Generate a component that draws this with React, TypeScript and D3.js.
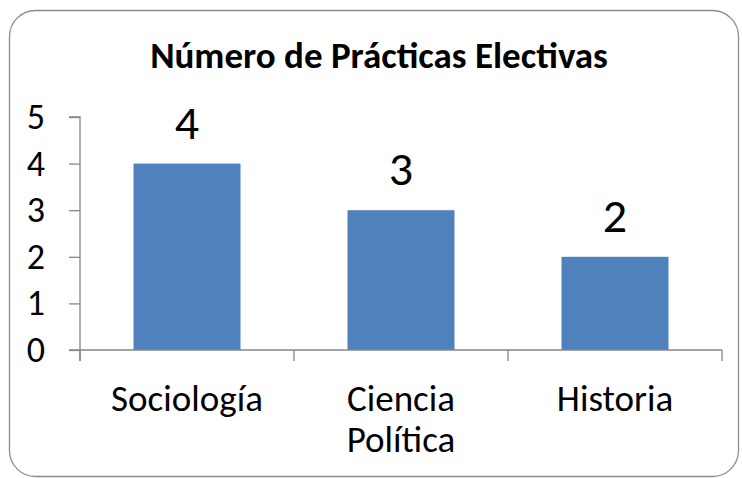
import React, { useEffect, useRef } from "react";
import * as d3 from "d3";

const width = 742;
const height = 478;
const margin = { top: 117, right: 20, bottom: 128, left: 80 };

// chart data
const categories = ["Sociología", "Ciencia Política", "Historia"];
const categoryLines = [["Sociología"], ["Ciencia", "Política"], ["Historia"]];
const values = [4, 3, 2];
const yTicks = [0, 1, 2, 3, 4, 5];
const title = "Número de Prácticas Electivas";

const font = "Carlito, Calibri, 'Open Sans', sans-serif";
const barColor = "#4f81bd";
const axisColor = "#868686";

export default function App() {
  const xAxisRef = useRef<SVGGElement>(null);
  const yAxisRef = useRef<SVGGElement>(null);

  // Scales
  const xScale = d3
    .scaleBand<string>()
    .domain(categories)
    .range([margin.left, width - margin.right])
    .paddingInner(0.5)
    .paddingOuter(0.25);
  const yScale = d3
    .scaleLinear()
    .domain([0, 5])
    .range([height - margin.bottom, margin.top]);

  const plotBottom = height - margin.bottom;

  useEffect(() => {
    // y axis: ticks point left, labels drawn separately
    const yAxis = d3.axisLeft(yScale).tickValues(yTicks).tickSize(11).tickFormat(() => "");
    const yg = d3.select(yAxisRef.current!);
    yg.call(yAxis);
    yg.selectAll("path, line").attr("stroke", axisColor).attr("stroke-width", 1.3);
    yg.select(".domain").attr("d", `M-11,${yScale(5)}H0V${plotBottom + 11}`);

    // x axis: ticks between categories
    const xg = d3.select(xAxisRef.current!);
    xg.selectAll("*").remove();
    xg.append("path")
      .attr("d", `M${margin.left - 11},0H${width - margin.right}`)
      .attr("stroke", axisColor)
      .attr("stroke-width", 1.3)
      .attr("fill", "none");
    const step = xScale.step();
    const bounds = categories.map((c) => (xScale(c) as number) - step * 0.25).concat([width - margin.right]);
    xg.selectAll("line.tick")
      .data(bounds)
      .enter()
      .append("line")
      .attr("class", "tick")
      .attr("x1", (d) => d)
      .attr("x2", (d) => d)
      .attr("y1", 0)
      .attr("y2", 11)
      .attr("stroke", axisColor)
      .attr("stroke-width", 1.3);
  }, []);

  return (
    <div style={{ position: "absolute", left: 0, top: 0 }}>
      <svg width={width} height={height} style={{ display: "block", background: "#fff" }}>
        <rect x={9.5} y={10.5} width={729} height={466} rx={26} ry={26} fill="#fff" stroke="#8c8c8c" strokeWidth={1.3} />
        <text x={379} y={68} textAnchor="middle" fontFamily={font} fontWeight="bold" fontSize={37} fill="#000">
          {title}
        </text>

        {values.map((v, i) => (
          <rect
            key={categories[i]}
            x={xScale(categories[i])}
            y={yScale(v)}
            width={xScale.bandwidth()}
            height={plotBottom - yScale(v)}
            fill={barColor}
          />
        ))}

        {values.map((v, i) => (
          <text
            key={"v" + i}
            x={(xScale(categories[i]) as number) + xScale.bandwidth() / 2}
            y={yScale(v) - 25}
            textAnchor="middle"
            fontFamily={font}
            fontSize={48}
            fill="#000"
          >
            {v}
          </text>
        ))}

        <g ref={yAxisRef} transform={`translate(${margin.left},0)`}></g>
        <g ref={xAxisRef} transform={`translate(0,${plotBottom})`}></g>

        {yTicks.map((t) => (
          <text key={"t" + t} x={45} y={yScale(t) + 12} textAnchor="end" fontFamily={font} fontSize={36} fill="#000">
            {t}
          </text>
        ))}

        {categoryLines.map((lines, i) =>
          lines.map((l, j) => (
            <text
              key={"c" + i + j}
              x={(xScale(categories[i]) as number) + xScale.bandwidth() / 2}
              y={411 + j * 41}
              textAnchor="middle"
              fontFamily={font}
              fontSize={37}
              fill="#000"
            >
              {l}
            </text>
          ))
        )}
      </svg>
    </div>
  );
}
